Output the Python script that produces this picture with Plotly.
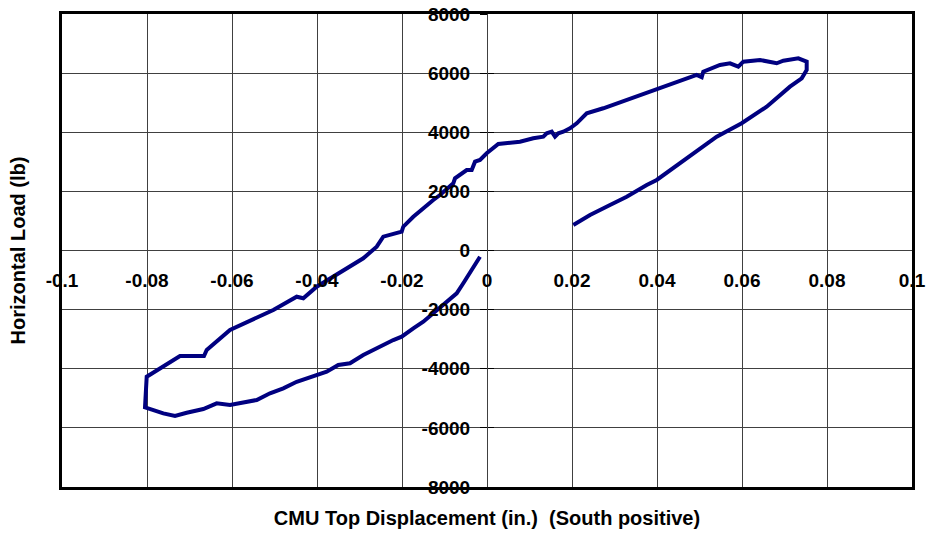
import plotly.graph_objects as go

# Hysteresis record: top displacement of the CMU wall (in.) vs horizontal load (lb)
disp = [
    -0.00165, -0.0040, -0.00558, -0.00713, -0.00948, -0.01224, -0.01499, -0.01734,
    -0.02007, -0.02205, -0.02518, -0.02911, -0.03224, -0.03499, -0.03772, -0.04047,
    -0.04478, -0.04793, -0.05106, -0.05419, -0.06047, -0.0636, -0.06675, -0.07066,
    -0.07341, -0.07616, -0.07929, -0.08047, -0.08007, -0.07224, -0.06659, -0.06595,
    -0.06047, -0.05419, -0.05028, -0.04478, -0.04322, -0.04007, -0.03381, -0.02911,
    -0.02595, -0.0244, -0.02007, -0.0197, -0.01734, -0.01419, -0.01264, -0.01106,
    -0.00793, -0.00753, -0.00478, -0.0036, -0.00282, -0.00165, -0.00007, 0.00266,
    0.00776, 0.01089, 0.01325, 0.01405, 0.01522, 0.016, 0.01678, 0.01795,
    0.01953, 0.02111, 0.02346, 0.02736, 0.03287, 0.03993, 0.04541, 0.04934,
    0.05052, 0.05089, 0.05482, 0.05718, 0.05913, 0.06031, 0.06424, 0.06816,
    0.06972, 0.07325, 0.07522, 0.07522, 0.07405, 0.07129, 0.06581, 0.05993,
    0.05405, 0.04854, 0.04384, 0.03993, 0.03758, 0.03287, 0.02894, 0.02424,
    0.02031,
]
load = [
    -210, -771, -1110, -1448, -1732, -2070, -2408, -2632,
    -2916, -3028, -3255, -3535, -3816, -3874, -4100, -4236,
    -4439, -4662, -4831, -5058, -5227, -5169, -5362, -5487,
    -5599, -5508, -5372, -5305, -4269, -3569, -3569, -3366,
    -2689, -2294, -2013, -1563, -1617, -1225, -660, -264,
    129, 467, 636, 805, 1143, 1539, 1708, 1878,
    2273, 2443, 2723, 2723, 3004, 3062, 3288, 3603,
    3681, 3796, 3850, 3965, 4019, 3850, 3965, 4019,
    4134, 4303, 4641, 4811, 5091, 5430, 5711, 5937,
    5859, 6049, 6276, 6333, 6218, 6387, 6445, 6333,
    6421, 6502, 6387, 6106, 5826, 5541, 4865, 4303,
    3850, 3288, 2781, 2385, 2216, 1820, 1539, 1201,
    863,
]

x_ticks = [-0.1, -0.08, -0.06, -0.04, -0.02, 0, 0.02, 0.04, 0.06, 0.08, 0.1]
x_tick_text = ["-0.1", "-0.08", "-0.06", "-0.04", "-0.02", "0",
               "0.02", "0.04", "0.06", "0.08", "0.1"]
y_ticks = [-8000, -6000, -4000, -2000, 0, 2000, 4000, 6000, 8000]
y_tick_text = ["-8000", "-6000", "-4000", "-2000", "0",
               "2000", "4000", "6000", "8000"]

x_range = [-0.1, 0.1]
y_range = [-8000, 8000]

FONT = "Liberation Sans, Arial, sans-serif"
tick_font = dict(family=FONT, size=19, color="black", weight="bold")
title_font = dict(family=FONT, size=20, color="black", weight="bold")
GRID = "#404040"

fig = go.Figure()
fig.add_trace(go.Scatter(
    x=disp, y=load, mode="lines",
    line=dict(color="#000080", width=4),
    showlegend=False, hoverinfo="skip",
))
# empty traces that register the zero-crossing axes
fig.add_trace(go.Scatter(x=[None], y=[None], xaxis="x2", yaxis="y2",
                         showlegend=False, hoverinfo="skip"))
fig.add_trace(go.Scatter(x=[None], y=[None], xaxis="x2", yaxis="y3",
                         showlegend=False, hoverinfo="skip"))

fig.update_layout(
    width=927, height=536,
    margin=dict(l=62, r=15, t=14, b=49),
    paper_bgcolor="white", plot_bgcolor="white",
    xaxis=dict(
        range=x_range, tickvals=x_ticks, showticklabels=False, ticks="",
        showgrid=True, gridcolor=GRID, gridwidth=1, zeroline=False,
        showline=True, linecolor="black", linewidth=3, mirror=True,
        title=dict(text="CMU Top Displacement (in.)  (South positive)",
                   font=title_font, standoff=22),
        automargin=False,
    ),
    yaxis=dict(
        range=y_range, tickvals=y_ticks, showticklabels=False, ticks="",
        showgrid=True, gridcolor=GRID, gridwidth=1, zeroline=False,
        showline=True, linecolor="black", linewidth=3, mirror=True,
        title=dict(text="Horizontal Load (lb)", font=title_font, standoff=29),
        automargin=False,
    ),
    # axis labels that sit on the zero lines
    xaxis2=dict(
        range=x_range, overlaying="x", anchor="free", position=0.5, side="bottom",
        tickvals=x_ticks, ticktext=x_tick_text, tickfont=tick_font,
        ticks="", showgrid=False, zeroline=False, showline=False,
        ticklabelstandoff=16, automargin=False,
    ),
    yaxis2=dict(
        range=y_range, overlaying="y", anchor="free", position=0.5, side="left",
        tickvals=y_ticks, ticktext=y_tick_text, tickfont=tick_font,
        ticks="outside", ticklen=7, tickwidth=1, tickcolor="black",
        showgrid=False, zeroline=False, showline=False,
        ticklabelstandoff=6, automargin=False,
    ),
    yaxis3=dict(
        range=y_range, overlaying="y", anchor="free", position=0.5, side="left",
        tickvals=y_ticks, showticklabels=False,
        ticks="inside", ticklen=6, tickwidth=1, tickcolor="black",
        showgrid=False, zeroline=False, showline=False, automargin=False,
    ),
)

fig.write_html("out.html")
